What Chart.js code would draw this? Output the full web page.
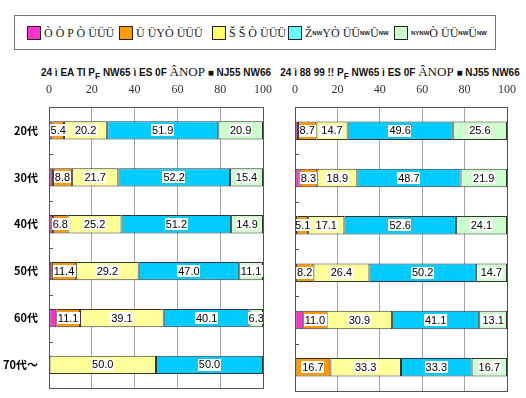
<!DOCTYPE html>
<html>
<head>
<meta charset="utf-8">
<script src="https://cdn.jsdelivr.net/npm/chart.js@4.4.1/dist/chart.umd.min.js"></script>
<style>
  body { margin: 0; width: 526px; height: 398px; background: #fff; position: relative; overflow: hidden; font-family: "Liberation Serif", serif; }
  #legend { position: absolute; left: 14px; top: 15px; width: 480px; height: 33px; border: 1px solid #777; background: #fff; }
  .item { position: absolute; top: 10px; height: 14px; display: flex; align-items: center; font-size: 12px; white-space: nowrap; color: #222; }
  .sw { width: 12px; height: 12px; border: 1px solid #222; margin-right: 3px; }
  .item small { font: bold 6px "Liberation Sans", sans-serif; }
  .title { position: absolute; top: 64px; font: bold 10px "Liberation Sans", sans-serif; text-align: center; white-space: nowrap; color: #111; }
  .title span { font: 13px "Liberation Serif", serif; }
  canvas { position: absolute; top: 0; }
</style>
</head>
<body>
<div id="legend"></div>
<div class="title" style="left:40px;width:232px">24 ì EA TI P<sub>F</sub> NW65 ì ES 0F <span>ÂNOP</span> ■ NJ55 NW66</div>
<div class="title" style="left:278px;width:244px">24 ì 88 99 !! P<sub>F</sub> NW65 ì ES 0F <span>ÂNOP</span> ■ NJ55 NW66</div>
<canvas id="left" width="282" height="398" style="left:0"></canvas>
<canvas id="right" width="244" height="398" style="left:282px"></canvas>
<script>
// categories (top to bottom) and series names as they appear in the legend
const categories = ["20代", "30代", "40代", "50代", "60代", "70代～"];
const seriesNames = ["Ò Ò P Ò ÜÜÜ", "Ü ÜYÒ ÜÜÜ", "Š Š Ò ÜÜÜ", "Ž<small>NW</small>YÒ ÜÜ<small>NW</small> Ü<small>NW</small>", "<small>NYNW</small>Ò ÜÜ<small>NW</small> Ü<small>NW</small>"];
const xTicks = [0, 20, 40, 60, 80, 100];

// left panel (%)
const leftPink   = [1.6, 1.9, 1.9, 1.3, 3.4, 0];
const leftOrange = [5.4, 8.8, 6.8, 11.4, 11.1, 0];
const leftYellow = [20.2, 21.7, 25.2, 29.2, 39.1, 50.0];
const leftBlue   = [51.9, 52.2, 51.2, 47.0, 40.1, 50.0];
const leftGreen  = [20.9, 15.4, 14.9, 11.1, 6.3, 0];

// right panel (%)
const rightPink   = [1.4, 2.2, 1.1, 0.5, 3.9, 0];
const rightOrange = [8.7, 8.3, 5.1, 8.2, 11.0, 16.7];
const rightYellow = [14.7, 18.9, 17.1, 26.4, 30.9, 33.3];
const rightBlue   = [49.6, 48.7, 52.6, 50.2, 41.1, 33.3];
const rightGreen  = [25.6, 21.9, 24.1, 14.7, 13.1, 16.7];

const colors = ["#ff33cc", "#ff9900", "#ffff99", "#00ccff", "#ccffcc"];
const legendColors = ["#ff33cc", "#ff9900", "#ffff66", "#66ffff", "#ccffcc"];
const legendLefts = [12, 104, 197, 273, 379];

// legend shared by both panels
const legend = document.getElementById("legend");
seriesNames.forEach((name, i) => {
  const el = document.createElement("div");
  el.className = "item";
  el.style.left = legendLefts[i] + "px";
  el.innerHTML = `<div class="sw" style="background:${legendColors[i]}"></div>${name}`;
  legend.appendChild(el);
});

// frame round the plot area + small inward ticks between categories
const frame = {
  id: "frame",
  afterDraw(chart) {
    const { ctx, chartArea: a } = chart;
    const y = chart.scales.y;
    ctx.save();
    ctx.strokeStyle = "#555";
    ctx.lineWidth = 1;
    ctx.strokeRect(Math.round(a.left) + 0.5, Math.round(a.top) + 0.5, Math.round(a.right - a.left), Math.round(a.bottom - a.top));
    ctx.beginPath();
    for (let i = 0; i < categories.length - 1; i++) {
      const yy = Math.round((y.getPixelForTick(i) + y.getPixelForTick(i + 1)) / 2) + 0.5;
      ctx.moveTo(a.left, yy);
      ctx.lineTo(a.left + 4, yy);
    }
    ctx.stroke();
    ctx.restore();
  },
};

// value labels in white boxes (pink slice is too thin, no label)
const valueLabels = {
  id: "valueLabels",
  afterDatasetsDraw(chart) {
    const ctx = chart.ctx;
    ctx.save();
    ctx.font = "11px 'Liberation Sans'";
    ctx.textAlign = "center";
    ctx.textBaseline = "middle";
    chart.data.datasets.forEach((ds, i) => {
      if (i === 0) return;
      chart.getDatasetMeta(i).data.forEach((bar, j) => {
        const v = ds.data[j];
        if (!v) return;
        const txt = v.toFixed(1);
        const cx = (bar.x + bar.base) / 2;
        const w = ctx.measureText(txt).width + 2;
        ctx.fillStyle = "#fff";
        ctx.fillRect(Math.round(cx - w / 2), Math.round(bar.y - 6), Math.round(w), 12);
        ctx.fillStyle = "#000";
        ctx.fillText(txt, cx, bar.y + 0.5);
      });
    });
    ctx.restore();
  },
};

function makeChart(id, series, showCats, padding, yWidth) {
  return new Chart(document.getElementById(id), {
    type: "bar",
    data: {
      labels: categories,
      datasets: series.map((d, i) => ({
        label: seriesNames[i],
        data: d,
        backgroundColor: colors[i],
        borderColor: "#333",
        borderWidth: 1,
        borderSkipped: false,
        barPercentage: 0.39,
        categoryPercentage: 1,
      })),
    },
    options: {
      indexAxis: "y",
      responsive: false,
      animation: false,
      layout: { padding },
      plugins: { legend: { display: false }, tooltip: { enabled: false } },
      scales: {
        x: {
          position: "top",
          stacked: true,
          min: 0,
          max: 100,
          afterBuildTicks: (s) => { s.ticks = xTicks.map((v) => ({ value: v })); },
          afterFit: (s) => { s.height = 47; },
          grid: { color: "#a6a6a6", drawTicks: false },
          border: { display: false },
          ticks: { padding: 10, color: "#333", font: { family: "Liberation Serif", size: 12 } },
        },
        y: {
          stacked: true,
          display: showCats,
          afterFit: (s) => { s.width = yWidth; },
          grid: { display: false },
          border: { display: false },
          ticks: { padding: 3, color: "#000", font: { family: "Noto Sans CJK JP", size: 11, weight: "bold" } },
        },
      },
    },
    plugins: [frame, valueLabels],
  });
}

makeChart("left", [leftPink, leftOrange, leftYellow, leftBlue, leftGreen], true,
  { left: 0, right: 10, top: 60, bottom: 7 }, 49);
makeChart("right", [rightPink, rightOrange, rightYellow, rightBlue, rightGreen], false,
  { left: 10, right: 12, top: 60, bottom: 7 }, 0);
</script>
</body>
</html>
